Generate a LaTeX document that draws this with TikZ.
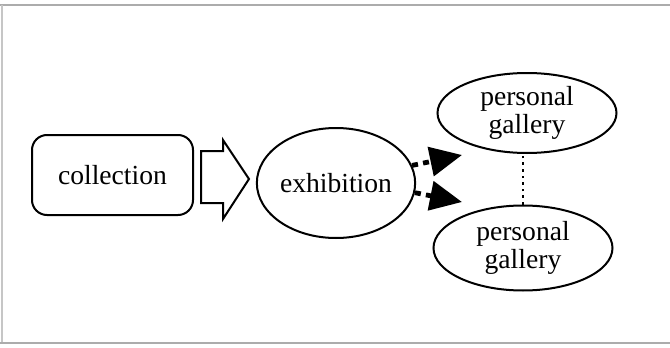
\documentclass[tikz,border=0pt]{standalone}
\usepackage{fontspec}
\setmainfont{Liberation Serif}
\usetikzlibrary{shapes.geometric, arrows.meta, calc}

\begin{document}
\begin{tikzpicture}[
	x=0.5pt, y=-0.5pt,
	font=\fontsize{13.8}{14}\selectfont,
	line width=1pt,
	box/.style={draw, rounded corners=7.5pt, minimum width=80.5pt, minimum height=40pt},
	oval/.style={draw, ellipse, inner sep=0pt, align=center},
	frame/.style={gray!65, line width=0.7pt},
	dots/.style={line width=2.4pt, dash pattern=on 3pt off 2.6pt, -{Triangle[length=16pt, width=14.5pt]}},
	link/.style={line width=1.3pt, dotted}
	]
	
	\useasboundingbox (0,0) rectangle (670,348);
	
	% Frame
	\draw[frame] (0,5) -- (670,5);
	\draw[frame, gray!45] (2,5) -- (2,343);
	\draw[frame] (0,343) -- (670,343);
	
	% Nodes
	\node [box] (collection) at (112.5,175) {collection};
	\node [oval, minimum width=71pt, minimum height=55pt] (exhibition) at (336,183) {exhibition};
	\node [oval, minimum width=89.5pt, minimum height=40pt] (gallery1) at (527,113) {personal\\gallery};
	\node [oval, minimum width=89.5pt, minimum height=42.5pt] (gallery2) at (523,248) {personal\\gallery};
	
	% Open arrow
	\draw[miter limit=20] (201,151) -- (223,151) -- (223,140) -- (249,179)
		-- (223,219) -- (223,203) -- (201,203) -- cycle;
	
	% Dotted arrows
	\coordinate (up) at (462,155);
	\coordinate (down) at (462,202);
	\draw[dots] (exhibition.13) -- (up);
	\draw[dots] (exhibition.-7) -- (down);
	
	\draw[link] (gallery2.north) -- (gallery2.north |- gallery1.south);
\end{tikzpicture}
\end{document}
